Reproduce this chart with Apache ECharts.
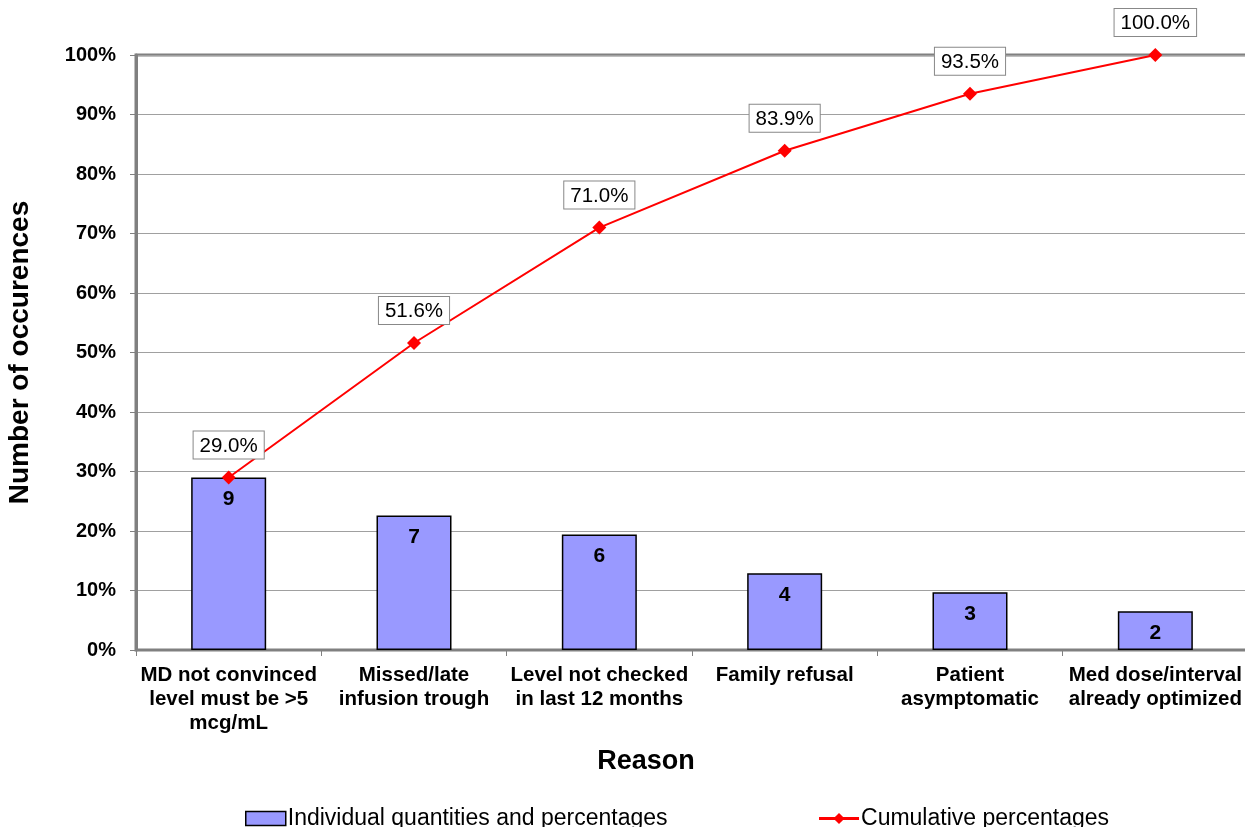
<!DOCTYPE html>
<html>
<head>
<meta charset="utf-8">
<script src="https://cdn.jsdelivr.net/npm/echarts@6/dist/echarts.min.js"></script>
<style>html,body{margin:0;padding:0;background:#fff}#c{width:1245px;height:827px}</style>
</head>
<body>
<div id="c"></div>
<script>
const categories = ["MD not convinced\nlevel must be >5\nmcg/mL", "Missed/late\ninfusion trough", "Level not checked\nin last 12 months", "Family refusal", "Patient\nasymptomatic", "Med dose/interval\nalready optimized"];
const counts = [9, 7, 6, 4, 3, 2];
const individualPct = [29.0, 22.6, 19.4, 12.9, 9.7, 6.5];
const cumulativePct = [29.0, 51.6, 71.0, 83.9, 93.5, 100.0];
const yTicks = [0, 10, 20, 30, 40, 50, 60, 70, 80, 90, 100];

const font = "Liberation Sans, Arial, sans-serif";
const chart = echarts.init(document.getElementById('c'), null, {renderer: 'canvas'});
chart.setOption({
  animation: false,
  textStyle: {fontFamily: font},
  grid: {left: 136, top: 55, width: 1112, height: 595, containLabel: false, outerBoundsMode: 'none',
    show: true, borderColor: '#808080', borderWidth: 3},
  legend: {
    left: 240, top: 802, itemWidth: 40, itemHeight: 14, itemGap: 150,
    textStyle: {fontSize: 23, color: '#000', fontFamily: font, padding: [0, 0, 0, -3]},
    data: [
      {name: 'Individual quantities and percentages', icon: 'rect', itemStyle: {borderColor: '#000', borderWidth: 1.5}},
      {name: 'Cumulative percentages', lineStyle: {width: 3}, itemStyle: {color: '#FF0000'}}
    ]
  },
  xAxis: {
    type: 'category', data: categories,
    name: 'Reason', nameLocation: 'middle', nameGap: 98,
    nameTextStyle: {fontSize: 27, fontWeight: 'bold', color: '#000', padding: [0, 92, 0, 0]},
    axisLine: {lineStyle: {color: '#808080', width: 2}},
    axisTick: {show: true, length: 6, lineStyle: {color: '#808080'}},
    axisLabel: {interval: 0, fontSize: 20.5, fontWeight: 'bold', color: '#000', lineHeight: 24, margin: 13}
  },
  yAxis: {
    type: 'value', min: 0, max: 100, interval: 10,
    name: 'Number of occurences', nameLocation: 'middle', nameGap: 102,
    nameTextStyle: {fontSize: 28, fontWeight: 'bold', color: '#000'},
    axisLine: {show: true, lineStyle: {color: '#808080', width: 3}},
    axisTick: {show: true, length: 6, lineStyle: {color: '#808080'}},
    axisLabel: {fontSize: 20, fontWeight: 'bold', color: '#000', margin: 20,
      formatter: v => yTicks.includes(v) ? v + '%' : ''},
    splitLine: {lineStyle: {color: '#a0a0a0', width: 1.2}}
  },
  series: [
    {
      name: 'Individual quantities and percentages', type: 'bar', data: individualPct, barWidth: 75,
      itemStyle: {color: '#9999FF', borderColor: '#000', borderWidth: 1.5},
      label: {show: true, position: 'insideTop', distance: 11, fontSize: 21, fontWeight: 'bold', color: '#000',
        formatter: p => String(counts[p.dataIndex])},
      z: 2
    },
    {
      name: 'Cumulative percentages', type: 'line', data: cumulativePct,
      symbol: 'diamond', symbolSize: 14,
      lineStyle: {color: '#FF0000', width: 2}, itemStyle: {color: '#FF0000'},
      label: {show: true, position: 'top', distance: 12, fontSize: 20.5, color: '#000',
        backgroundColor: '#fff', borderColor: '#888', borderWidth: 1, padding: [4, 6, 2, 6],
        formatter: p => p.value.toFixed(1) + '%'},
      z: 5
    }
  ]
});
</script>
</body>
</html>
